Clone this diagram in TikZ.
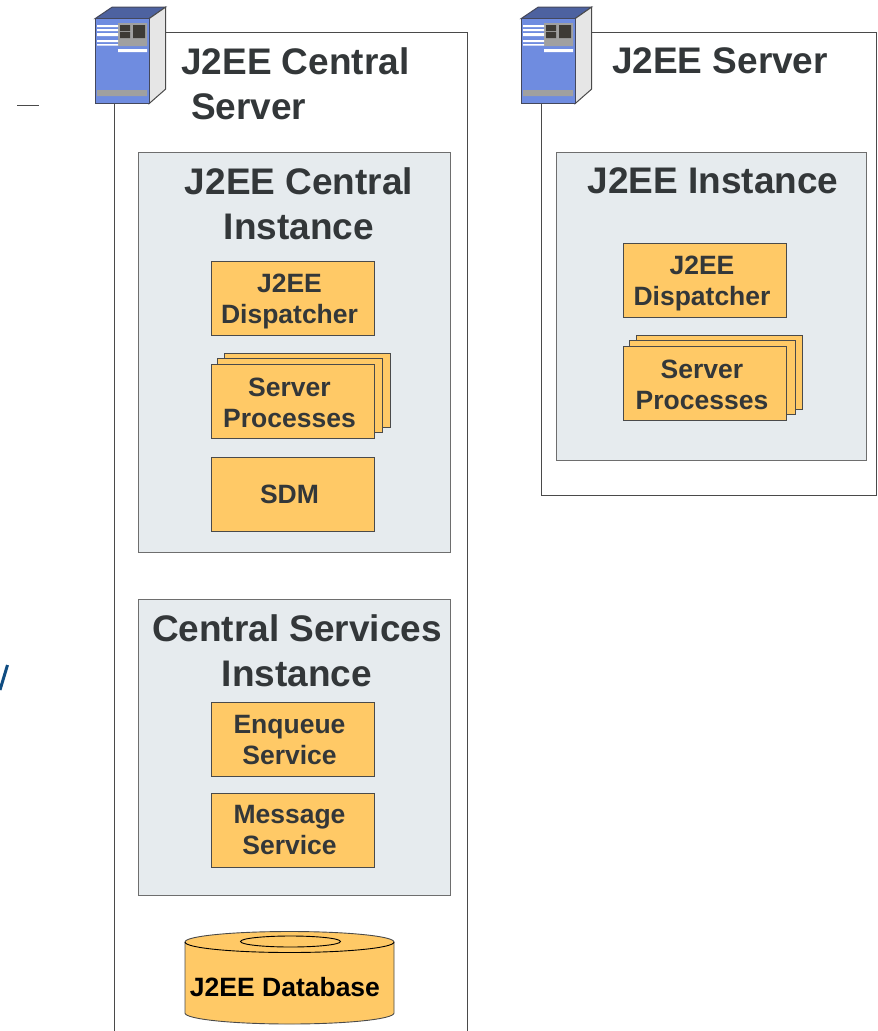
\documentclass[tikz,border=0pt]{standalone}
\usepackage{fontspec}
\setmainfont{Liberation Sans}
\usepackage{xcolor}
\definecolor{panelgray}{HTML}{E6EBEE}
\definecolor{procorange}{HTML}{FFC966}
\definecolor{textgray}{HTML}{333739}
\definecolor{linegray}{HTML}{4A4A4A}
\definecolor{frontblue}{HTML}{6F8CE0}
\definecolor{topblue}{HTML}{4D62A0}
\definecolor{sidegray}{HTML}{E6E6E6}
\definecolor{slotgray}{HTML}{A0A0A0}
\definecolor{slotdark}{HTML}{3D3A35}
\definecolor{edgeblue}{HTML}{44485C}
\definecolor{strayblue}{HTML}{0F4C81}
\tikzset{
  serverline/.style={draw=linegray, line width=1pt},
  panel/.style={draw=linegray!80, line width=0.9pt, fill=panelgray, inner sep=0pt},
  procbox/.style={draw=linegray, line width=0.9pt, fill=procorange},
  headtext/.style={font=\fontsize{37}{45}\selectfont\bfseries, text=textgray, align=center, inner sep=0pt},
  proctext/.style={font=\fontsize{26.5}{31}\selectfont\bfseries, text=textgray, align=center, inner sep=0pt},
  servericon/.pic={
    \draw[edgeblue, line width=1pt, fill=topblue] (0,0) -- (17,-11.5) -- (70.5,-11.5) -- (54,0) -- cycle;
    \draw[linegray, line width=1pt, fill=sidegray] (54,0) -- (70.5,-11.5) -- (70.5,70.5) -- (54,85) -- cycle;
    \draw[edgeblue, line width=1pt, fill=frontblue] (0,0) rectangle (54,85);
    \fill[slotgray] (23,4.5) rectangle (52,27.5) (2,71.5) rectangle (52,77.5);
    \fill[slotdark] (25,6.5) rectangle (35,12.5) (25,13.5) rectangle (35,19.5) (38,6.5) rectangle (50,19.5);
    \fill[white] (23,30.5) rectangle (52,33.5)
      (2,6.5) rectangle (23,8.5) (2,10.5) rectangle (23,12.5) (2,14.5) rectangle (23,17.5)
      (2,21.5) rectangle (23,23.5) (2,25.5) rectangle (23,27);
  },
}
\newcommand{\procnode}[5]{
  \node[procbox, minimum width=163, minimum height=74, inner sep=0pt] (#1) at (#2,#3) {};
  \node[proctext] (#1text) at (#2-3,#4) {#5};
}
\begin{document}
\begin{tikzpicture}[x=1pt, y=-1pt]
  \useasboundingbox (0,0) rectangle (878,1031);
  % stray marks at the left edge
  \draw[linegray, line width=0.8pt] (17,105) coordinate (strayl) -- (39,105) coordinate (strayr);
  \draw[strayblue, line width=3pt] (7.5,665) coordinate (tailt) -- (0,690) coordinate (tailb);
  % server frames
  \draw[serverline]
    (114,104) coordinate (centralbl) -- (114,1031)
    (467,1031) -- (467,32) -- (165,32) coordinate (centraltl)
  ;
  \draw[serverline]
    (590,32) coordinate (servertl) -- (876,32) -- (876,495) -- (541,495) -- (541,104) coordinate (serverbl)
  ;
  \pic at (95,18.7) {servericon};
  \pic at (521,18.7) {servericon};
  \node[headtext, align=left, anchor=north west] (centralhead) at (181,47)
    {J2EE Central\\\hspace*{10pt}Server};
  \node[headtext] (serverhead) at (720,61) {J2EE Server};
  % instance panels
  \node[panel, minimum width=312, minimum height=400] (centralinst) at (294,352) {};
  \node[panel, minimum width=310, minimum height=308] (serverinst) at (711,306) {};
  \node[panel, minimum width=312, minimum height=296] (servicesinst) at (294,747) {};
  \node[headtext] (centralinsthead) at (299,204) {J2EE Central\\Instance};
  \node[headtext] (serverinsthead) at (713,181) {J2EE Instance};
  \node[headtext] (servicesinsthead) at (297,651) {Central Services\\Instance};
  % stacked sheets behind the server processes
  \foreach \x/\y in {292.5/401, 705/383} {
    \draw[procbox] (\x-68.5,\y-48) rectangle (\x+97.5,\y+26);
    \draw[procbox] (\x-75.5,\y-43) rectangle (\x+90,\y+31);
  }
  % process boxes
  \procnode{dispa}{292.5}{298}{301}{J2EE\\Dispatcher}
  \procnode{procsa}{292.5}{401}{403}{Server\\Processes}
  \procnode{sdm}{292.5}{494}{494}{SDM}
  \procnode{enqueue}{292.5}{739}{740.5}{Enqueue\\Service}
  \procnode{message}{292.5}{830}{830.5}{Message\\Service}
  \procnode{dispb}{705}{280}{283}{J2EE\\Dispatcher}
  \procnode{procsb}{705}{383}{385}{Server\\Processes}
  % database
  \draw[linegray, line width=0.9pt, fill=procorange]
    (185,942) coordinate (dbl) -- (185,1013)
    arc[start angle=180, end angle=0, x radius=104.5, y radius=11]
    -- (394,942) coordinate (dbr)
    arc[start angle=0, end angle=-180, x radius=104.5, y radius=10.5]
    -- cycle
  ;
  \draw[black, line width=0.9pt] (dbl) arc[start angle=180, end angle=0, x radius=104.5, y radius=10.5];
  \draw[black, line width=0.9pt] (290.5,941.5) ellipse [x radius=50, y radius=5.5];
  \node[proctext, text=black] (dbtext) at (285,987) {J2EE Database};
\end{tikzpicture}
\end{document}
